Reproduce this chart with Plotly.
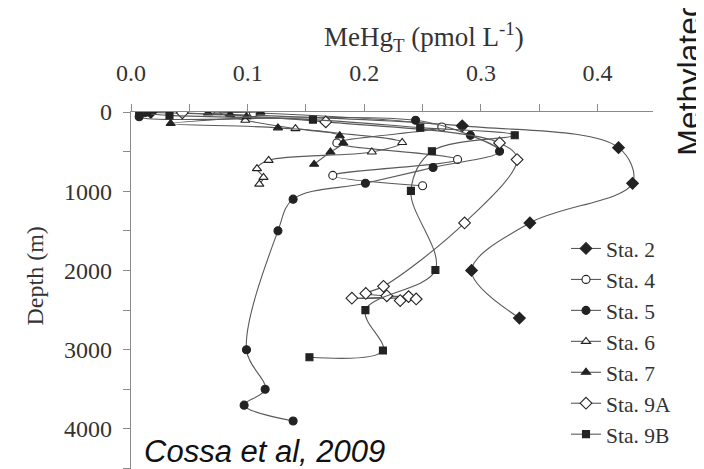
import plotly.graph_objects as go

# ---- data (MeHg_T in pmol/L, depth in m) ----
sta2_depth = [5, 175, 450, 900, 1400, 2000, 2600]
sta2_val = [0.017, 0.284, 0.418, 0.430, 0.342, 0.292, 0.333]

sta4_depth = [10, 190, 390, 600, 800, 930]
sta4_val = [0.105, 0.2665, 0.1765, 0.280, 0.173, 0.250]

sta5_depth = [5, 60, 105, 295, 495, 700, 900, 1100, 1500, 3000, 3500, 3700, 3900]
sta5_val = [0.012, 0.007, 0.244, 0.291, 0.316, 0.259, 0.201, 0.139, 0.126, 0.099, 0.115, 0.097, 0.139]

sta6_depth = [10, 105, 210, 385, 505, 610, 715, 825, 910]
sta6_val = [0.074, 0.098, 0.141, 0.2325, 0.2065, 0.118, 0.108, 0.1136, 0.110]

sta7_depth = [2, 13, 30, 60, 145, 200, 300, 390, 505, 660]
sta7_val = [0.111, 0.066, 0.085, 0.099, 0.034, 0.126, 0.179, 0.182, 0.171, 0.157]

sta9a_depth = [10, 125, 390, 600, 1400, 2200, 2290, 2320, 2330, 2350, 2360, 2380]
sta9a_val = [0.044, 0.167, 0.316, 0.331, 0.286, 0.2165, 0.2013, 0.2193, 0.238, 0.1894, 0.2445, 0.2308]

sta9b_depth = [5, 12, 42, 96, 197, 294, 495, 995, 1995, 2500, 3010, 3095]
sta9b_val = [0.014, 0.007, 0.033, 0.156, 0.248, 0.329, 0.258, 0.240, 0.261, 0.201, 0.216, 0.153]

station_names = ["Sta. 2", "Sta. 4", "Sta. 5", "Sta. 6", "Sta. 7", "Sta. 9A", "Sta. 9B"]

# ---- styling ----
INK = "#222222"
LINE = "#5a5a5a"
AX = "#8a8a8a"
TXT = "#333333"
SERIF = "Liberation Serif, Times New Roman, serif"
SANS = "Liberation Sans, Arial, sans-serif"

series = [
    (sta2_depth, sta2_val, "diamond", INK, 9),
    (sta4_depth, sta4_val, "circle", "white", 8),
    (sta5_depth, sta5_val, "circle", INK, 8),
    (sta6_depth, sta6_val, "triangle-up", "white", 8),
    (sta7_depth, sta7_val, "triangle-up", INK, 8),
    (sta9a_depth, sta9a_val, "diamond", "white", 9),
    (sta9b_depth, sta9b_val, "square", INK, 7),
]

fig = go.Figure()
for name, (d, v, sym, fill, size) in zip(station_names, series):
    fig.add_trace(go.Scatter(
        x=v, y=d, name=name, mode="lines+markers",
        line=dict(color=LINE, width=1.1, shape="spline", smoothing=1.0),
        marker=dict(symbol=sym, size=size, color=fill, line=dict(color=INK, width=1.1)),
    ))

# page has an 8px body margin; figure pixel = screen pixel - 8
OFF = 8
W, H = 704 - OFF, 469 - OFF
L, T = 130.7 - OFF, 111.7 - OFF
R = W - (653 - OFF)
B = 0
pw, ph = W - L - R, H - T - B

def px_x(s):
    return (s - OFF - L) / pw

def px_y(s):
    return (H - B - (s - OFF)) / ph

fig.update_layout(
    width=W, height=H,
    margin=dict(l=L, r=R, t=T, b=B, pad=0, autoexpand=False),
    paper_bgcolor="white", plot_bgcolor="white",
    font=dict(family=SERIF, color=TXT, size=24),
    showlegend=True,
    legend=dict(
        xref="container", yref="container",
        x=(566 - OFF) / W, y=1 - (228 - OFF) / H, xanchor="left", yanchor="top",
        font=dict(family=SERIF, size=21.5, color=TXT),
        bgcolor="rgba(0,0,0,0)", borderwidth=0,
    ),
    xaxis=dict(
        side="top", range=[0, pw / 1167.0],
        tickmode="linear", tick0=0, dtick=0.1, tickformat=".1f",
        ticks="outside", ticklen=7, tickcolor=AX, tickwidth=1,
        ticklabelstandoff=13,
        minor=dict(ticks="outside", ticklen=7, tickcolor=AX, tickwidth=1, dtick=0.05, tick0=0, showgrid=False),
        showline=True, linecolor=AX, linewidth=1.3,
        showgrid=False, zeroline=False, automargin=False,
        tickfont=dict(family=SERIF, size=24, color=TXT),
    ),
    yaxis=dict(
        range=[ph / 0.0793, 0],
        tickmode="linear", tick0=0, dtick=1000,
        ticks="outside", ticklen=7, tickcolor=AX, tickwidth=1,
        ticklabelstandoff=6,
        minor=dict(ticks="outside", ticklen=7, tickcolor=AX, tickwidth=1, dtick=500, tick0=0, showgrid=False),
        showline=True, linecolor=AX, linewidth=1.3,
        showgrid=False, zeroline=False, automargin=False,
        tickfont=dict(family=SERIF, size=24, color=TXT),
    ),
    annotations=[
        dict(text="MeHg<sub>T</sub> (pmol L<sup>-1</sup>)", xref="paper", yref="paper",
             x=px_x(424), y=px_y(37), xanchor="center", yanchor="middle",
             showarrow=False, font=dict(family=SERIF, size=27, color=TXT)),
        dict(text="Depth (m)", xref="paper", yref="paper",
             x=px_x(35), y=px_y(276), xanchor="center", yanchor="middle",
             textangle=-90, showarrow=False, font=dict(family=SERIF, size=24, color=TXT)),
        dict(text="Methylated mercury", xref="paper", yref="paper",
             x=px_x(689), y=px_y(157), xanchor="center", yanchor="bottom",
             textangle=-90, showarrow=False,
             font=dict(family=SANS, size=32, color="#1a1a1a")),
        dict(text="<i>Cossa et al, 2009</i>", xref="paper", yref="paper",
             x=px_x(142), y=px_y(451), xanchor="left", yanchor="middle",
             showarrow=False, font=dict(family=SANS, size=31, color="#111111")),
    ],
)

fig.write_html("out.html")
